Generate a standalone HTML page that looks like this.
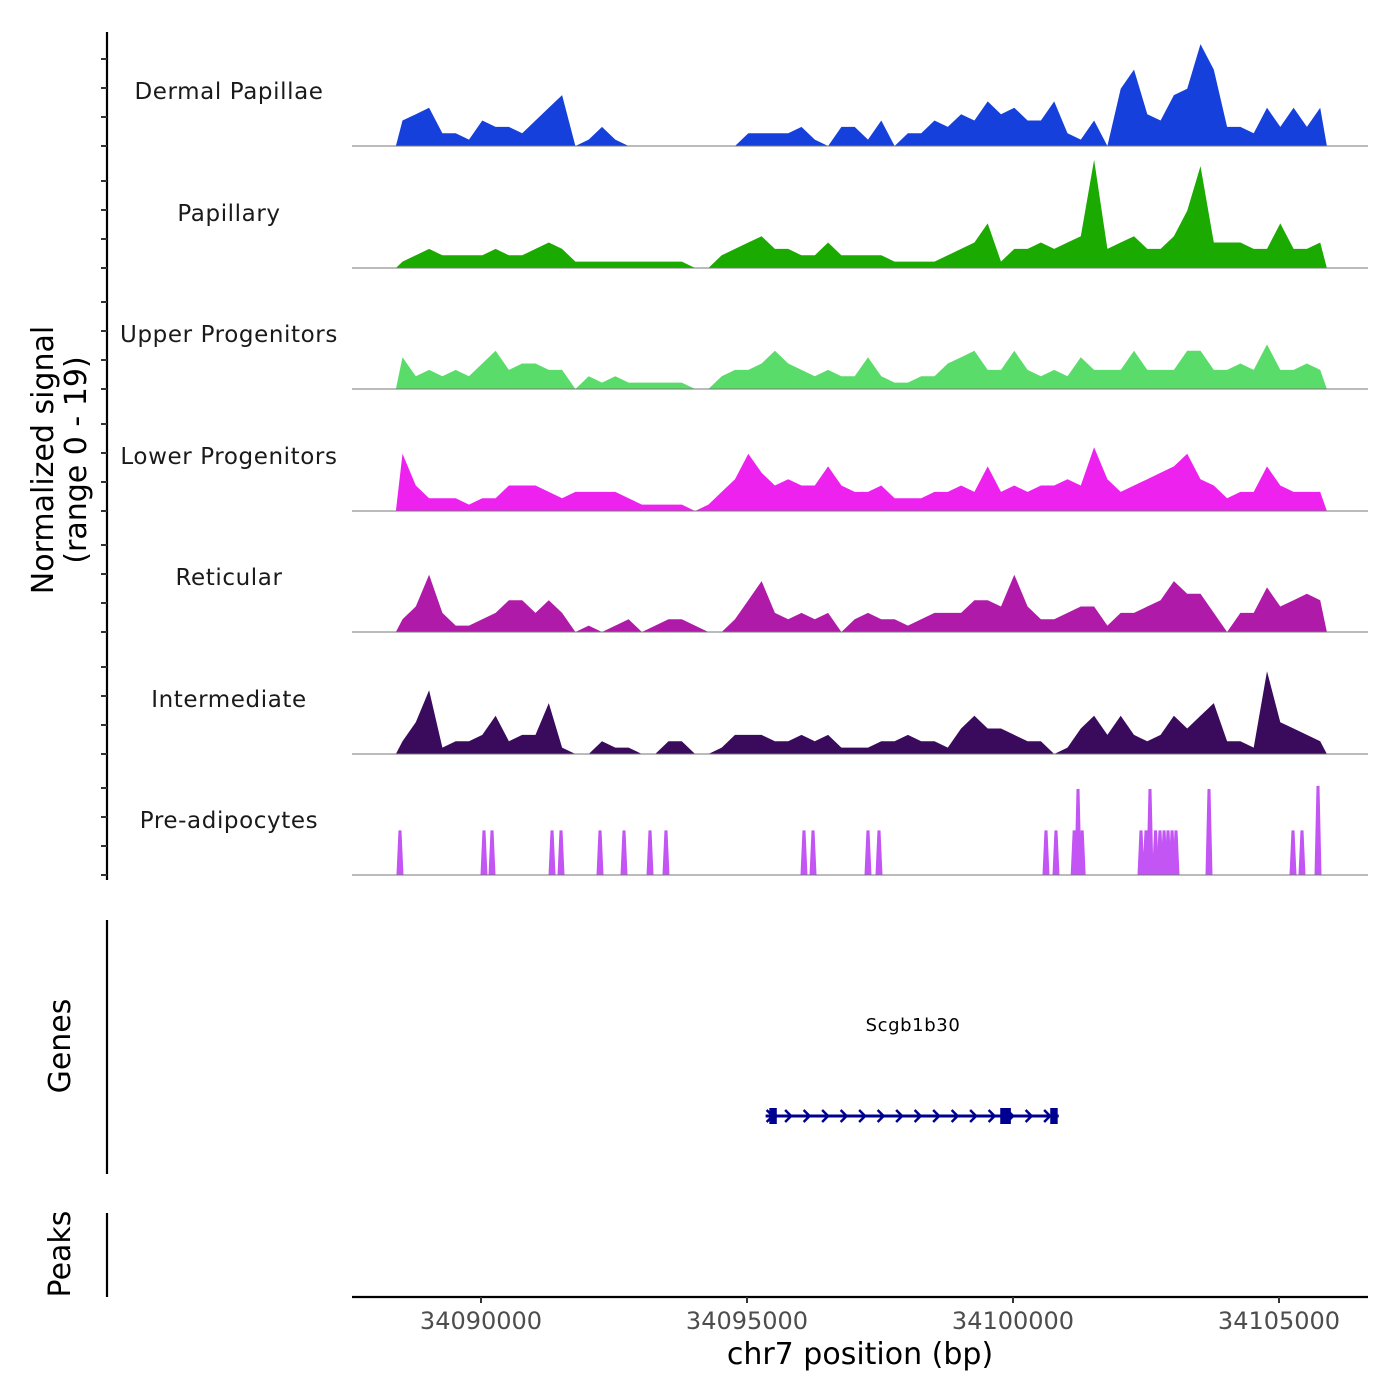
<!DOCTYPE html>
<html><head><meta charset="utf-8"><style>
body{margin:0;background:#fff}
svg{display:block;font-family:"DejaVu Sans","Liberation Sans",sans-serif}
</style></head><body>
<svg id="chart" width="1400" height="1400" viewBox="0 0 1400 1400" xmlns="http://www.w3.org/2000/svg"></svg>
<script>
const trackNames = ["Dermal Papillae","Papillary","Upper Progenitors","Lower Progenitors","Reticular","Intermediate","Pre-adipocytes"];
const trackColors = ["#1640dc","#1aaa00","#5adc6a","#ee22ee","#b01aa8","#3a0a5c","#c355f5"];
const binStart = 34088400;
const binSize = 250;
const dermalPapillae = [4,5,6,2,2,1,4,3,3,2,4,6,8,0,1,3,1,0,0,0,0,0,0,0,0,0,2,2,2,2,3,1,0,3,3,1,4,0,2,2,4,3,5,4,7,5,6,4,4,7,2,1,4,0,9,12,5,4,8,9,16,12,3,3,2,6,3,6,3,6];
const papillary = [1,2,3,2,2,2,2,3,2,2,3,4,3,1,1,1,1,1,1,1,1,1,0,0,2,3,4,5,3,3,2,2,4,2,2,2,2,1,1,1,1,2,3,4,7,1,3,3,4,3,4,5,17,3,4,5,3,3,5,9,16,4,4,4,3,3,7,3,3,4];
const upperProgenitors = [5,2,3,2,3,2,4,6,3,4,4,3,3,0,2,1,2,1,1,1,1,1,0,0,2,3,3,4,6,4,3,2,3,2,2,5,2,1,1,2,2,4,5,6,3,3,6,3,2,3,2,5,3,3,3,6,3,3,3,6,6,3,3,4,3,7,3,3,4,3];
const lowerProgenitors = [9,4,2,2,2,1,2,2,4,4,4,3,2,3,3,3,3,2,1,1,1,1,0,1,3,5,9,6,4,5,4,4,7,4,3,3,4,2,2,2,3,3,4,3,7,3,4,3,4,4,5,4,10,5,3,4,5,6,7,9,5,4,2,3,3,7,4,3,3,3];
const reticular = [2,4,9,3,1,1,2,3,5,5,3,5,3,0,1,0,1,2,0,1,2,2,1,0,0,2,5,8,3,2,3,2,3,0,2,3,2,2,1,2,3,3,3,5,5,4,9,4,2,2,3,4,4,1,3,3,4,5,8,6,6,3,0,3,3,7,4,5,6,5];
const intermediate = [2,5,10,1,2,2,3,6,2,3,3,8,1,0,0,2,1,1,0,0,2,2,0,0,1,3,3,3,2,2,3,2,3,1,1,1,2,2,3,2,2,1,4,6,4,4,3,2,2,0,1,4,6,3,6,3,2,3,6,4,6,8,2,2,1,13,5,4,3,2];
const preadPos = [34088477,34090056,34090207,34091335,34091504,34092237,34092688,34093177,34093477,34096071,34096241,34097274,34097481,34100620,34100808,34101150,34101222,34101300,34102406,34102500,34102575,34102680,34102763,34102840,34102914,34102990,34103064,34103684,34105263,34105432,34105733];
const preadVal = [7,7,7,7,7,7,7,7,7,7,7,7,7,7,7,7,13.5,7,7,7,13.5,7,7,7,7,7,7,13.5,7,7,14];
const xTicks = [34090000,34095000,34100000,34105000];
const geneStart = 34095350, geneEnd = 34100860;
const exonStarts = [34095420,34099760,34100700];
const exonEnds = [34095560,34099960,34100840];

const svg = document.getElementById('chart');
const NS = 'http://www.w3.org/2000/svg';
function mk(tag, attrs, parent){const e=document.createElementNS(NS,tag);for(const k in attrs)e.setAttribute(k,attrs[k]);(parent||svg).appendChild(e);return e;}
const xScale = bp => 481 + (bp-34090000)*0.0532;
const baselines = [146,268,389,511,632,754,875];
const yScale = (v,t) => baselines[t] - v/19*121;
const series = [dermalPapillae,papillary,upperProgenitors,lowerProgenitors,reticular,intermediate];

let ax = mk('line',{x1:107,y1:32,x2:107,y2:880,stroke:'#000','stroke-width':2.2});


for(let t=0;t<7;t++){for(let k=0;k<4;k++){const y=baselines[t]-k*29;
 const tk=mk('line',{x1:101,y1:y,x2:107,y2:y,stroke:'#333','stroke-width':2});
 
 }}
let yt = mk('text',{x:0,y:0,'font-size':30,'text-anchor':'middle',transform:'translate(53,460) rotate(-90)'});


mk('tspan',{x:0,dy:0},yt).textContent='Normalized signal';
mk('tspan',{x:0,dy:33},yt).textContent='(range 0 - 19)';

for(let t=0;t<7;t++){
 const lab=mk('text',{x:229,y:baselines[t]-47,'font-size':23,'text-anchor':'middle',fill:'#1a1a1a','letter-spacing':'0.6'});
 
 
 lab.textContent=trackNames[t];
 if(t<6){
  const arr=series[t];let d='M'+xScale(binStart)+','+baselines[t];
  for(let i=0;i<arr.length;i++){const x=xScale(binStart+(i+0.5)*binSize);d+=' L'+x.toFixed(1)+','+yScale(arr[i],t).toFixed(1);}
  d+=' L'+xScale(binStart+arr.length*binSize)+','+baselines[t]+' Z';
  const p=mk('path',{d:d,fill:trackColors[t]});
  
  
 } else {
  for(let i=0;i<preadPos.length;i++){const x=xScale(preadPos[i]);const y=yScale(preadVal[i],t);
   const sp=mk('polygon',{points:`${x-3.5},${baselines[t]} ${x-1.5},${y} ${x+1.5},${y} ${x+3.5},${baselines[t]}`,fill:trackColors[t]});
   
   }
 }
 const bl=mk('line',{x1:352,y1:baselines[t],x2:1368,y2:baselines[t],stroke:'#777','stroke-width':1});
 
 
}

let ga=mk('line',{x1:107,y1:920,x2:107,y2:1174,stroke:'#000','stroke-width':2.2});


let gt=mk('text',{x:0,y:0,'font-size':30,'text-anchor':'middle',transform:'translate(70,1046) rotate(-90)'});


gt.textContent='Genes';
const g1=xScale(geneStart),g2=xScale(geneEnd);
let gl=mk('line',{x1:g1,y1:1116,x2:g2,y2:1116,stroke:'#000090','stroke-width':3});


for(let x=g1+4;x<g2-2;x+=18.5){const a=mk('polyline',{points:`${x-3},${1110} ${x+3},${1116} ${x-3},${1122}`,fill:'none',stroke:'#000090','stroke-width':2.5});
 
 }
for(let i=0;i<exonStarts.length;i++){const ex=mk('rect',{x:xScale(exonStarts[i]),y:1108,width:xScale(exonEnds[i])-xScale(exonStarts[i]),height:16,fill:'#000090'});
 
 }
let gn=mk('text',{x:913,y:1031,'font-size':18,'text-anchor':'middle',fill:'#000','letter-spacing':'0.6'});


gn.textContent='Scgb1b30';

let pa=mk('line',{x1:107,y1:1213,x2:107,y2:1297,stroke:'#000','stroke-width':2.2});


let pt=mk('text',{x:0,y:0,'font-size':30,'text-anchor':'middle',transform:'translate(70,1254) rotate(-90)'});


pt.textContent='Peaks';

let xa=mk('line',{x1:352,y1:1297,x2:1368,y2:1297,stroke:'#000','stroke-width':2.2});


for(const v of xTicks){const x=xScale(v);
 const tk=mk('line',{x1:x,y1:1297,x2:x,y2:1303,stroke:'#333','stroke-width':2});
 
 
 const tl=mk('text',{x:x,y:1329,'font-size':24,'text-anchor':'middle',fill:'#4d4d4d'});
 
 
 tl.textContent=v;}
let xt=mk('text',{x:860,y:1364,'font-size':30,'text-anchor':'middle',fill:'#000'});


xt.textContent='chr7 position (bp)';
</script>
</body></html>
